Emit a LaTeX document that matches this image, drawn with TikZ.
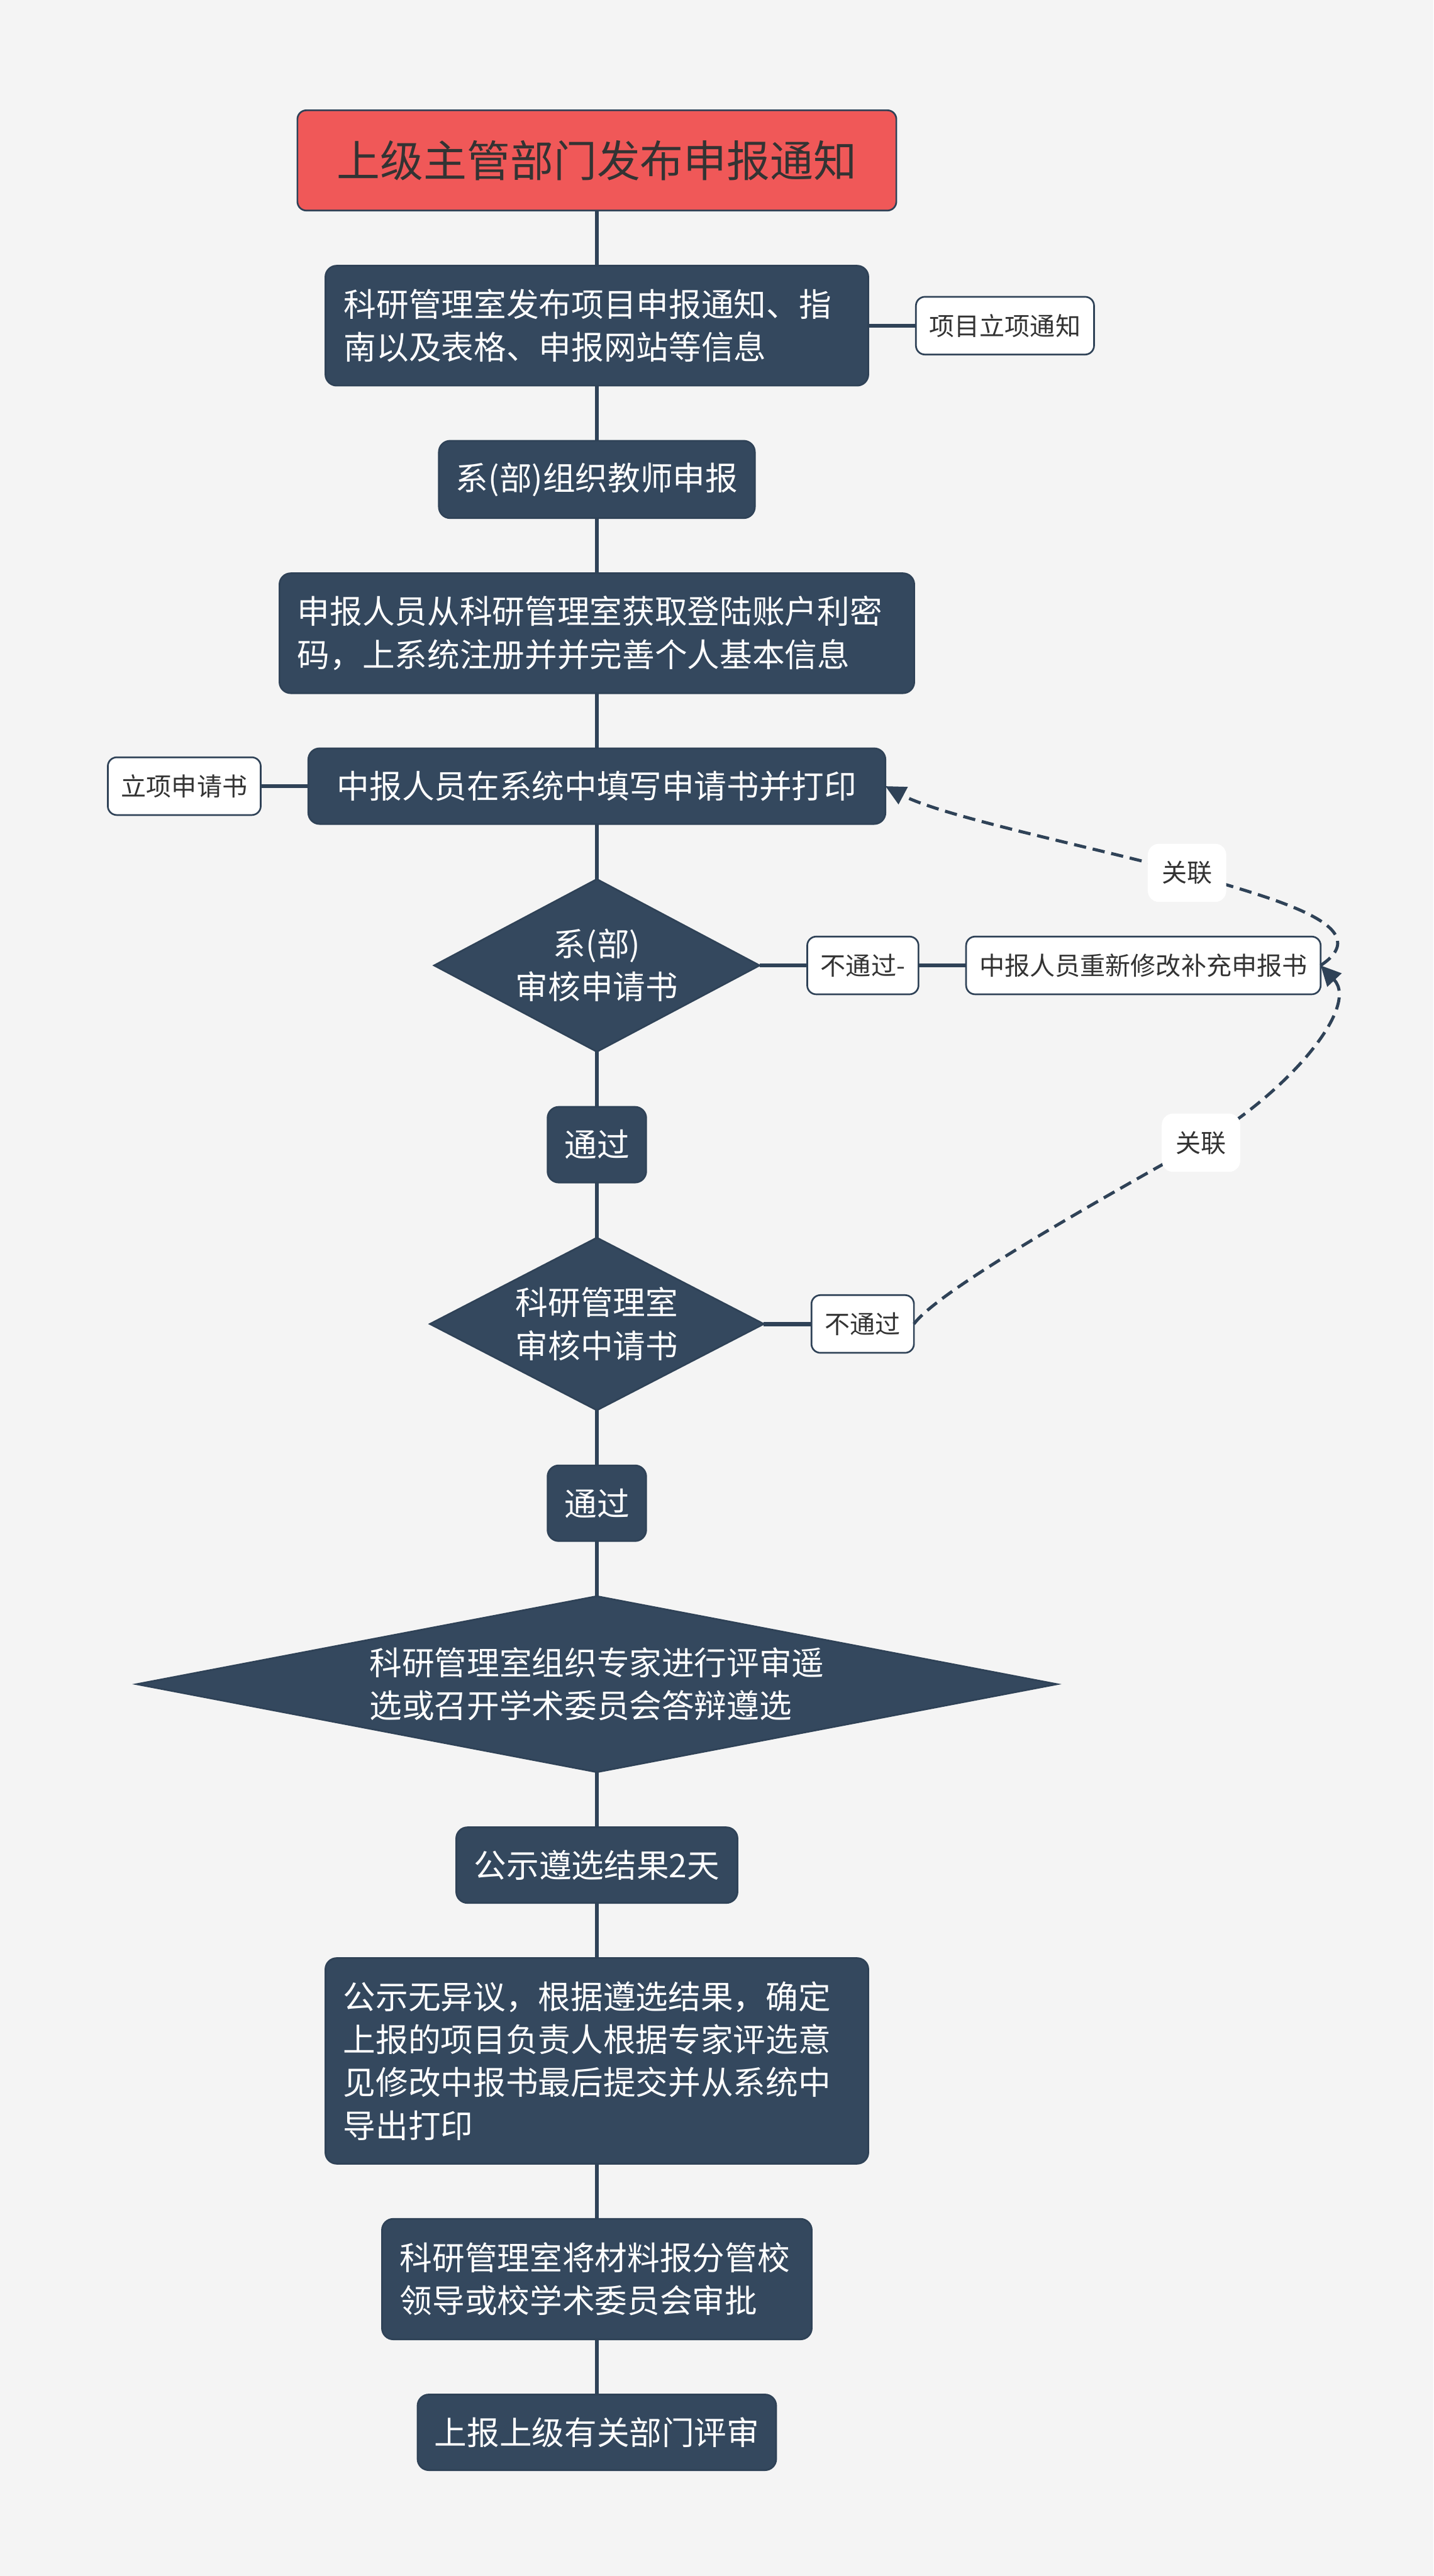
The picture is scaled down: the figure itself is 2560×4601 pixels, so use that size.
\documentclass[tikz,border=0pt]{standalone}
\usepackage{fontspec}
\setmainfont{Noto Sans CJK SC}
\usetikzlibrary{arrows.meta, positioning, shapes.geometric}
\definecolor{cbg}{RGB}{244,244,244}
\definecolor{cnode}{RGB}{52,72,94}
\definecolor{cline}{RGB}{47,66,87}
\definecolor{ctop}{RGB}{240,88,88}
\definecolor{ctext}{RGB}{51,51,51}
\newcommand{\bodyfont}{\fontsize{16.5}{21.8}\selectfont}
\newcommand{\notefont}{\fontsize{12.8}{16}\selectfont}

\begin{document}
\begin{tikzpicture}[
  x=0.01cm, y=-0.01cm,
  box/.style={fill=cnode, draw=cline, line width=0.03cm, rounded corners=0.2cm,
    text=white, font=\bodyfont, inner sep=0pt, outer sep=0pt},
  topbox/.style={fill=ctop, draw=cline, line width=0.03cm, rounded corners=0.16cm,
    text=ctext, font=\fontsize{22}{26}\selectfont, inner sep=0pt, outer sep=0pt},
  decision/.style={diamond, fill=cnode, draw=cline, line width=0.03cm,
    text=white, font=\bodyfont, inner sep=0pt, outer sep=0pt, align=center},
  note/.style={fill=white, draw=cline, line width=0.03cm, rounded corners=0.16cm,
    text=ctext, font=\notefont, inner xsep=0.24cm, minimum height=1.03cm, outer sep=0pt},
  tag/.style={fill=white, rounded corners=0.2cm, text=ctext, font=\notefont,
    inner xsep=0.25cm, minimum height=1.04cm},
  link/.style={draw=cline, line width=0.075cm},
  rel/.style={draw=cline, line width=0.055cm, dash pattern=on 0.22cm off 0.12cm,
    -{Triangle[length=0.36cm, width=0.34cm]}},
  node distance=0.985cm and 0.85cm,
]
\fill[cbg] (0,0) rectangle (2560,4601);
\node[topbox, minimum width=10.69cm, minimum height=1.79cm] (top) at (1066,286.5)
  {上级主管部门发布申报通知};
\node[box, below=of top, text width=9.03cm, inner xsep=0.33cm, minimum height=2.14cm,
  align=left] (notice)
  {科研管理室发布项目申报通知、指\\南以及表格、申报网站等信息};
\node[box, below=of notice, minimum width=5.64cm, minimum height=1.38cm] (dept)
  {系(部)组织教师申报};
\node[box, below=of dept, text width=10.69cm, inner xsep=0.32cm, minimum height=2.14cm,
  align=left] (login)
  {申报人员从科研管理室获取登陆账户利密\\码，上系统注册并并完善个人基本信息};
\node[box, below=of login, minimum width=10.30cm, minimum height=1.35cm] (write)
  {中报人员在系统中填写申请书并打印};
\node[decision, below=of write, aspect=1.89, minimum width=5.81cm, minimum height=3.08cm] (d1)
  {系(部)\\审核申请书};
\node[box, below=of d1, minimum width=1.76cm, minimum height=1.35cm] (pass1) {通过};
\node[decision, below=of pass1, aspect=1.93, minimum width=5.96cm, minimum height=3.08cm] (d2)
  {科研管理室\\审核中请书};
\node[box, below=of d2, minimum width=1.76cm, minimum height=1.35cm] (pass2) {通过};
\node[decision, below=of pass2, aspect=5.23, minimum width=16.43cm, minimum height=3.14cm,
  align=left] (review)
  {科研管理室组织专家进行评审遥\\选或召开学术委员会答辩遵选};
\node[box, below=of review, minimum width=5.02cm, minimum height=1.35cm] (publish)
  {公示遵选结果2天};
\node[box, below=of publish, text width=9.05cm, inner xsep=0.32cm, minimum height=3.67cm,
  align=left] (final)
  {公示无异议，根据遵选结果，确定\\上报的项目负责人根据专家评选意\\见修改中报书最后提交并从系统中\\导出打印};
\node[box, below=of final, text width=7.03cm, inner xsep=0.32cm, minimum height=2.15cm,
  align=left] (approve)
  {科研管理室将材料报分管校\\领导或校学术委员会审批};
\node[box, below=of approve, minimum width=6.40cm, minimum height=1.35cm] (report)
  {上报上级有关部门评审};

\node[note, right=of notice] (n1) {项目立项通知};
\node[note, left=of write] (n2) {立项申请书};
\node[note, right=of d1] (fail1) {不通过-};
\node[note, right=of fail1] (redo) {中报人员重新修改补充申报书};
\node[note, right=of d2] (fail2) {不通过};

\draw[link] (top) -- (notice) -- (dept) -- (login) -- (write) -- (d1) -- (pass1)
  -- (d2) -- (pass2) -- (review) -- (publish) -- (final) -- (approve) -- (report);
\draw[link] (notice) -- (n1);
\draw[link] (write) -- (n2);
\draw[link] (d1) -- (fail1) -- (redo);
\draw[link] (d2) -- (fail2);

\coordinate (k1) at (2120,1559);
\coordinate (k2) at (2145,2041);
\draw[rel] (redo.east) .. controls (2470,1650) and (2250,1600) .. (k1)
  .. controls (1979,1519) and (1686,1460) .. (write.east);
\draw[rel] (fail2.east) .. controls (1680,2300) and (1997,2125) .. (k2)
  .. controls (2293,1957) and (2430,1800) .. (redo.east);
\node[tag] (tag1) at (k1) {关联};
\node[tag] (tag2) at (k2) {关联};
\end{tikzpicture}
\end{document}
